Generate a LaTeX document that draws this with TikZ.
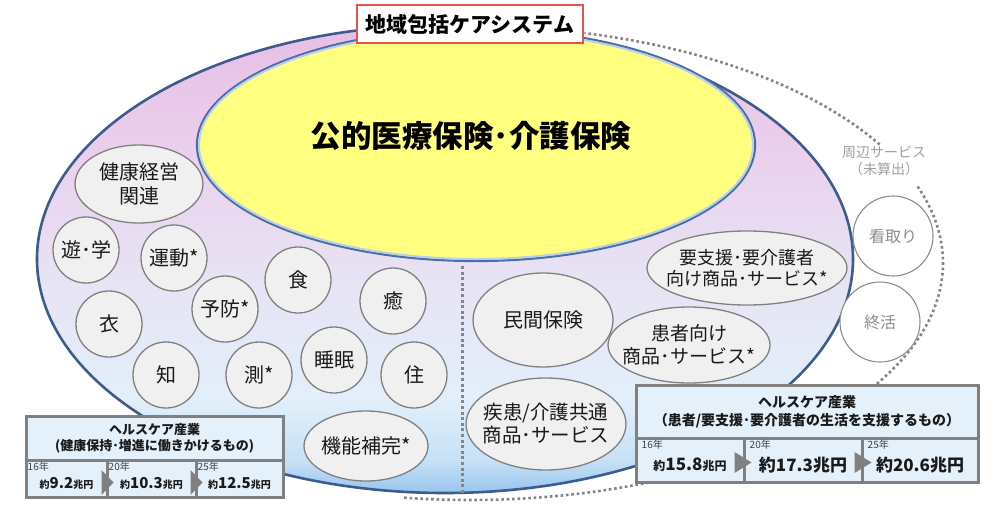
\documentclass[tikz,border=0pt]{standalone}
\usepackage{fontspec}
\setmainfont{Noto Sans CJK JP}
\usetikzlibrary{shapes.geometric,calc}
\definecolor{outerline}{HTML}{3B5C8C}
\definecolor{yellowfill}{HTML}{FFFF80}
\definecolor{yellowline}{HTML}{4A6FA5}
\definecolor{yellowglow}{HTML}{B9D0EC}
\definecolor{bubfill}{HTML}{F0F0F0}
\definecolor{bubline}{HTML}{808080}
\definecolor{txt}{HTML}{1A1A1A}
\definecolor{sidegray}{HTML}{8C8C8C}
\definecolor{notegray}{HTML}{A0A0A0}
\definecolor{dotgray}{HTML}{858585}
\definecolor{boxline}{HTML}{808080}
\definecolor{boxfill}{HTML}{E4F0FA}
\definecolor{titlered}{HTML}{E5534B}
\definecolor{yeargray}{HTML}{404040}
\definecolor{sa}{HTML}{98C4EE}
\definecolor{sb}{HTML}{C6E1F6}
\definecolor{sc}{HTML}{E2EFFA}
\definecolor{sd}{HTML}{E7E3F4}
\definecolor{se}{HTML}{EACFEC}
\definecolor{sf}{HTML}{E6BFE5}
\pgfdeclareverticalshading{outershade}{100bp}{color(0bp)=(sa); color(25bp)=(sa); color(28.5bp)=(sb); color(35bp)=(sc); color(48bp)=(sd); color(62bp)=(se); color(75bp)=(sf); color(100bp)=(sf)}
\newcommand{\fsz}[1]{\fontsize{#1}{#1}\selectfont}
\begin{document}
\begin{tikzpicture}[x=1pt,y=-1pt,
  bub/.style={circle, draw=bubline, fill=bubfill, line width=1.3pt, minimum size=66pt, inner sep=0pt, text=txt, font=\fsz{20}},
  ebub/.style={ellipse, draw=bubline, fill=bubfill, line width=1.3pt, inner sep=0pt},
  btext/.style={align=center, text=txt, inner sep=0pt},
  side/.style={circle, draw=sidegray, fill=white, line width=1.1pt, minimum size=80pt, inner sep=0pt, text=sidegray, font=\fsz{16}},
  note/.style={align=center, text=notegray, font=\fontsize{14}{17}\selectfont, inner sep=0pt},
  dotarc/.style={draw=dotgray, line width=2.6pt, dash pattern=on 2.6pt off 2.8pt},
  vdash/.style={draw=dotgray, line width=3pt, dash pattern=on 3pt off 2.6pt},
  boxcell/.style={rectangle, draw=boxline, fill=boxfill, line width=3pt, inner sep=0pt},
  yr/.style={anchor=north west, text=yeargray, font=\fsz{10}, inner sep=0pt},
  val/.style={text=txt, font=\bfseries, inner sep=0pt},
  tri/.style={fill=boxline}
]
\useasboundingbox[fill=white] (0,0) rectangle (1000,508);

% outer dotted boundary (peripheral services)
\draw[dotarc] plot[domain=-98:19, samples=120, smooth] ({470+473*cos(\x)},{263-237*sin(\x)});
\draw[dotarc] plot[domain=30:76, samples=50, smooth] ({470+473*cos(\x)},{263-237*sin(\x)});

% big ellipse
\node[ellipse, shade, shading=outershade, draw=outerline, line width=2.6pt,
      minimum width=816pt, minimum height=468pt, inner sep=0pt] (hc) at (445,259) {};

% separator
\coordinate (vtop) at (462,266);
\coordinate (vbot) at (462,494);
\draw[vdash] (vtop) -- (vbot);

% yellow ellipse
\node[ellipse, fill=yellowfill, draw=yellowline, line width=2.2pt,
      minimum width=558pt, minimum height=232pt, inner sep=0pt] (pub) at (476,145) {};
\draw[yellowglow, line width=2pt] (pub.center) ellipse[x radius=277pt, y radius=114pt];
\node[text=black, font=\bfseries\fsz{30.5}, inner sep=0pt] (pubtext) at (471,136) {公的医療保険･介護保険};

% title
\node[draw=titlered, fill=white, line width=1.3pt, minimum width=226pt, minimum height=38pt,
      inner sep=0pt, font=\bfseries\fsz{21}] (title) at (470,24) {地域包括ケアシステム};

% left bubbles
\node[ebub, minimum width=128pt, minimum height=78pt,
      label={[btext, font=\fontsize{20}{24}\selectfont]center:健康経営\\関連}] (keiei) at (139,184) {};
\node[bub] (asobi) at (86,250) {遊･学};
\node[bub] (undo) at (174,258) {運動*};
\node[bub] (koromo) at (109,324) {衣};
\node[bub] (yobo) at (225,309) {予防*};
\node[bub] (chi) at (166,375) {知};
\node[bub] (soku) at (259,375) {測*};
\node[bub] (shoku) at (298,280) {食};
\node[bub] (iyashi) at (393,301) {癒};
\node[bub] (suimin) at (334,360) {睡眠};
\node[bub] (ju) at (414,375) {住};
\node[ebub, minimum width=124pt, minimum height=70pt,
      label={[btext, font=\fsz{20}]center:機能補完*}] (kino) at (366,446) {};

% right bubbles
\node[ebub, minimum width=140pt, minimum height=94pt,
      label={[btext, font=\fsz{20}]center:民間保険}] (minkan) at (543,320) {};
\node[ebub, minimum width=200pt, minimum height=74pt,
      label={[btext, font=\fontsize{18}{21}\selectfont]center:要支援･要介護者\\向け商品･サービス*}] (yoshien) at (747,268) {};
\node[ebub, minimum width=162pt, minimum height=76pt,
      label={[btext, font=\fontsize{19}{23}\selectfont]center:患者向け\\商品･サービス*}] (kanja) at (689,345) {};
\node[ebub, minimum width=160pt, minimum height=92pt,
      label={[btext, font=\fontsize{19.5}{23}\selectfont]center:疾患/介護共通\\商品･サービス}] (shikkan) at (546,424) {};

% peripheral services
\node[note] (shuhen) at (884,161) {周辺サービス\\（未算出）};
\node[side] (mitori) at (893,236) {看取り};
\node[side] (shukatsu) at (880,322) {終活};

% left industry box
\node[boxcell, minimum width=257pt, minimum height=44pt, align=center, text=txt,
      font=\bfseries\fontsize{13}{16}\selectfont] (lt) at (154.5,438) {ヘルスケア産業\\(健康保持･増進に働きかけるもの)};
\node[boxcell, minimum width=81pt, minimum height=37pt] (l1) at (66.5,478.5) {};
\node[boxcell, minimum width=89pt, minimum height=37pt] (l2) at (151.5,478.5) {};
\node[boxcell, minimum width=87pt, minimum height=37pt] (l3) at (239.5,478.5) {};
\fill[tri] ($(l1.east)+(-7,-8.5)$) -- ($(l1.east)+(5,4)$) -- ($(l1.east)+(-7,16.5)$) -- cycle;
\fill[tri] ($(l2.east)+(-7,-8.5)$) -- ($(l2.east)+(5,4)$) -- ($(l2.east)+(-7,16.5)$) -- cycle;
\node[yr] (ly1) at ($(l1.north west)+(3,3)$) {16年};
\node[yr] (ly2) at ($(l2.north west)+(3,3)$) {20年};
\node[yr] (ly3) at ($(l3.north west)+(3,3)$) {25年};
\node[val] (lv1) at ($(l1.center)+(0,5)$) {{\fsz{10}約}{\fsz{15}9.2}{\fsz{10}兆円}};
\node[val] (lv2) at ($(l2.center)+(0,5)$) {{\fsz{10}約}{\fsz{15}10.3}{\fsz{10}兆円}};
\node[val] (lv3) at ($(l3.center)+(0,5)$) {{\fsz{10}約}{\fsz{15}12.5}{\fsz{10}兆円}};

% right industry box
\node[boxcell, minimum width=342pt, minimum height=53pt, align=center, text=txt,
      font=\bfseries\fontsize{14}{18}\selectfont] (rt) at (807,411.5) {ヘルスケア産業\\（患者/要支援･要介護者の生活を支援するもの）};
\node[boxcell, minimum width=108pt, minimum height=44pt] (r1) at (690,460) {};
\node[boxcell, minimum width=118pt, minimum height=44pt] (r2) at (803,460) {};
\node[boxcell, minimum width=116pt, minimum height=44pt] (r3) at (920,460) {};
\fill[tri] ($(r1.east)+(-11,-8)$) -- ($(r1.east)+(6,2.5)$) -- ($(r1.east)+(-11,13)$) -- cycle;
\fill[tri] ($(r2.east)+(-9,-8)$) -- ($(r2.east)+(8,2.5)$) -- ($(r2.east)+(-9,13)$) -- cycle;
\node[yr] (ry1) at ($(r1.north west)+(7,3)$) {16年};
\node[yr] (ry2) at ($(r2.north west)+(7,3)$) {20年};
\node[yr] (ry3) at ($(r3.north west)+(7,3)$) {25年};
\node[val] (rv1) at ($(r1.center)+(0,5)$) {{\fsz{12}約}{\fsz{17}15.8}{\fsz{12}兆円}};
\node[val, font=\bfseries\fsz{17}] (rv2) at ($(r2.center)+(0,5)$) {約17.3兆円};
\node[val, font=\bfseries\fsz{17}] (rv3) at ($(r3.center)+(0,5)$) {約20.6兆円};
\end{tikzpicture}
\end{document}
